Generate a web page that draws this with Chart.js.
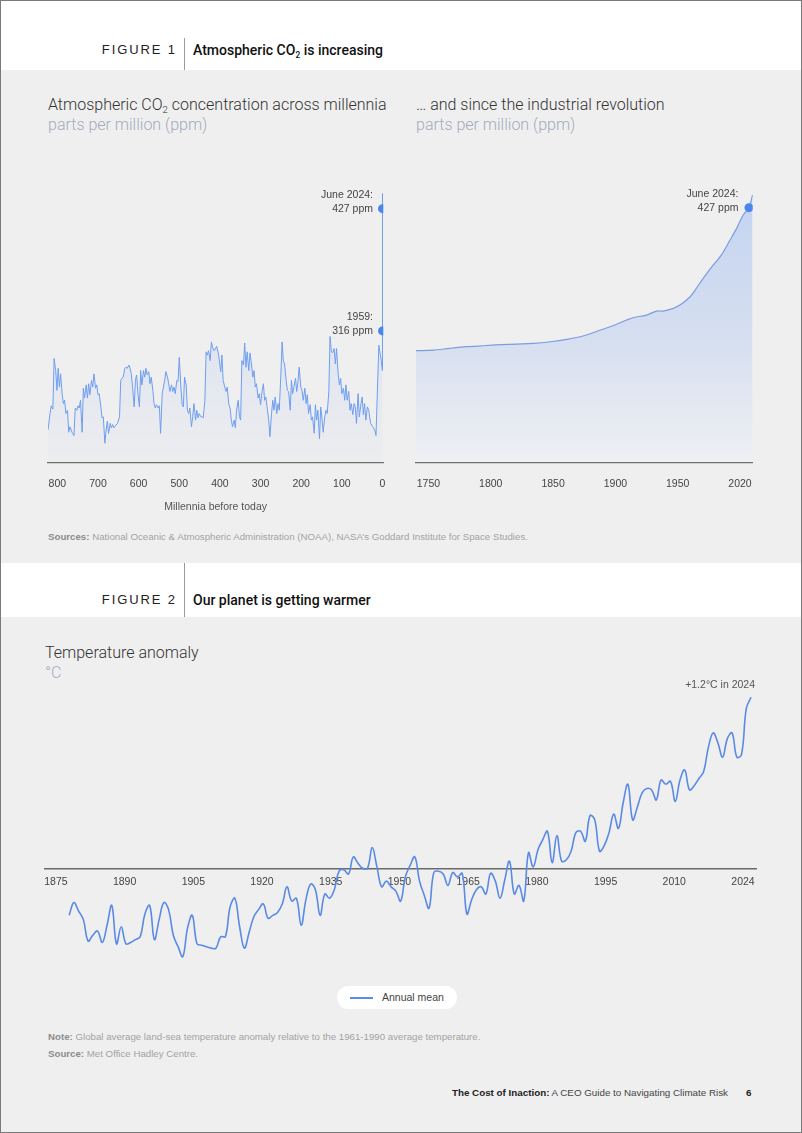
<!DOCTYPE html>
<html><head><meta charset="utf-8">
<script src="https://cdn.jsdelivr.net/npm/chart.js@4.4.1/dist/chart.umd.min.js"></script>
<style>
html,body{margin:0;padding:0;}
body{width:802px;height:1133px;position:relative;background:#efefef;font-family:"Liberation Sans",Arial,sans-serif;overflow:hidden;}
.abs{position:absolute;white-space:nowrap;}
.band{position:absolute;left:0;width:802px;background:#fff;}
.frame{position:absolute;left:0;top:0;width:802px;height:1133px;box-sizing:border-box;border:1px solid #7a7a7a;pointer-events:none;}
.figlabel{font-size:13px;line-height:16px;letter-spacing:1.9px;color:#222;text-align:right;width:120px;}
.figtitle{font-family:Roboto,"Liberation Sans",sans-serif;font-weight:500;font-size:14px;line-height:17px;color:#111;}
.vline{position:absolute;width:1px;background:#9a9a9a;}
.ctitle{font-family:Roboto,"Liberation Sans",sans-serif;font-weight:300;font-size:16px;line-height:20px;color:#333;}
.csub{font-family:Roboto,"Liberation Sans",sans-serif;font-weight:300;font-size:16px;line-height:20px;color:#a3abbd;}
sub{font-size:0.6em;vertical-align:-0.3em;line-height:0;}
.small{font-size:9.7px;line-height:12px;color:#a3a3a3;}
.small b{color:#8c8c8c;}
.foot{font-size:9.8px;line-height:13px;color:#444;}
.foot b{color:#222;}
canvas{position:absolute;}
.pill{position:absolute;left:337px;top:986px;width:120px;height:23px;border-radius:12px;background:#fff;}
.pill .sw{position:absolute;left:13px;top:11px;width:23px;height:1.5px;background:#5a8ae6;}
.pill .tx{position:absolute;left:45px;top:5px;font-size:10.5px;line-height:13px;color:#444;}
</style>
</head>
<body>
<div class="band" style="top:0;height:70px;"></div>
<div class="band" style="top:563px;height:54px;"></div>

<div class="abs figlabel" style="left:57px;top:42px;">FIGURE 1</div>
<div class="vline" style="left:184px;top:38px;height:32px;"></div>
<div class="abs figtitle" style="left:193px;top:41.5px;">Atmospheric CO<sub>2</sub> is increasing</div>

<div class="abs ctitle" style="left:48px;top:95px;">Atmospheric CO<sub>2</sub> concentration across millennia</div>
<div class="abs csub" style="left:48px;top:115px;">parts per million (ppm)</div>
<div class="abs ctitle" style="left:416px;top:95px;">… and since the industrial revolution</div>
<div class="abs csub" style="left:416px;top:115px;">parts per million (ppm)</div>

<canvas id="c1" width="360" height="347" style="left:40px;top:170px;"></canvas>
<canvas id="c2" width="360" height="347" style="left:405px;top:170px;"></canvas>

<div class="abs small" style="left:48px;top:531px;"><b>Sources:</b> National Oceanic &amp; Atmospheric Administration (NOAA), NASA’s Goddard Institute for Space Studies.</div>

<div class="abs figlabel" style="left:57px;top:592px;">FIGURE 2</div>
<div class="vline" style="left:184px;top:563px;height:54px;"></div>
<div class="abs figtitle" style="left:193px;top:591.5px;">Our planet is getting warmer</div>

<div class="abs ctitle" style="left:45px;top:643px;">Temperature anomaly</div>
<div class="abs csub" style="left:45px;top:663px;">°C</div>

<canvas id="c3" width="725" height="310" style="left:40px;top:675px;"></canvas>

<div class="pill"><div class="sw"></div><div class="tx">Annual mean</div></div>

<div class="abs small" style="left:48px;top:1031px;"><b>Note:</b> Global average land-sea temperature anomaly relative to the 1961-1990 average temperature.</div>
<div class="abs small" style="left:48px;top:1048px;"><b>Source:</b> Met Office Hadley Centre.</div>

<div class="abs foot" style="right:74px;top:1085.5px;"><b>The Cost of Inaction:</b> A CEO Guide to Navigating Climate Risk</div>
<div class="abs foot" style="left:746px;top:1085.5px;"><b>6</b></div>

<div class="frame"></div>

<script>
// ---------- Figure 1, left: CO2 across millennia (thousand years before today, ppm) ----------
const co2AncientKa = [823,818,815,811,808,804,801,798,795,792,788,785,782,779,775,772,769,764,759,756,752,749,746,743,739,736,733,729,726,723,720,716,713,710,706,703,700,697,693,690,687,683,680,677,674,670,667,664,661,657,652,647,644,641,638,634,631,628,624,621,618,615,611,608,605,601,598,595,592,588,585,582,579,575,572,569,565,562,559,556,552,549,546,542,539,536,533,529,526,523,519,516,513,510,506,503,500,496,493,490,487,483,480,477,474,470,467,464,460,457,454,451,447,444,441,437,434,431,428,424,421,418,414,408,403,398,395,392,388,385,382,378,375,372,369,365,362,359,355,352,349,346,342,339,336,333,329,326,323,319,316,313,310,306,303,300,296,293,290,287,283,280,277,273,270,267,264,260,257,254,250,247,244,241,237,234,231,227,224,221,218,214,211,208,205,201,198,195,191,188,185,182,178,175,172,168,165,162,159,155,152,149,146,142,139,136,132,129,126,123,119,116,113,109,106,103,100,96,93,90,87,83,80,77,73,70,67,64,60,57,54,50,47,44,41,37,34,29,24,19,16,13,9,6,3,0.3,0];
const co2AncientPpm = [226,241,248,245,291,280,262,282,265,277,258,250,253,241,244,224,229,224,221,246,244,248,246,253,224,264,255,267,255,268,258,271,265,277,264,267,258,259,247,237,238,214,226,234,223,232,228,231,228,230,232,238,271,273,274,282,283,282,285,282,277,265,247,271,276,256,247,280,267,280,274,282,276,279,268,274,262,250,246,249,246,248,223,259,265,271,279,274,268,261,267,261,265,259,271,270,292,265,249,247,274,267,244,241,246,229,238,250,235,244,237,241,238,238,237,253,297,294,298,289,306,301,298,302,294,279,294,271,265,261,265,249,246,235,229,235,228,244,253,238,235,289,285,305,283,297,280,296,288,274,280,265,268,255,259,249,262,268,253,256,244,235,220,241,253,244,256,241,250,244,277,306,289,286,271,262,261,244,271,259,265,273,261,270,283,265,262,253,264,250,258,241,249,235,238,223,249,235,244,218,247,237,224,238,244,241,261,311,298,296,300,286,300,277,267,273,259,264,253,267,253,261,244,250,240,250,247,232,259,238,247,256,240,250,235,247,244,232,229,226,221,256,303,296,289,280,441];
const co2AncientMarkKa = [0, 0];
const co2AncientMarkPpm = [427, 316];
const co2AncientMarkLabels = [['June 2024:', '427 ppm'], ['1959:', '316 ppm']];
const co2AncientTicks = [800, 700, 600, 500, 400, 300, 200, 100, 0];

// ---------- Figure 1, right: CO2 since the industrial revolution ----------
// x values are positions on the picture's year axis (its last tick is labelled 2020)
const co2RecentYear = [1740,1754,1767,1781,1794,1808,1821,1834,1848,1861,1874,1888,1898,1909,1914,1925,1933,1938.5,1946.5,1953,1960,1964,1970.5,1978.6,1985,1992,1997.3,2002.6,2007.2,2010.1];
const co2RecentPpm = [277.0,277.7,279.5,281.2,282.2,283.3,284.0,284.7,286.4,288.9,292.4,298.7,303.2,309.2,311.6,314.4,318.6,318.6,321.4,325.9,333.6,340.6,352.9,366.9,377.3,393.1,405.3,419.3,427.0,440.3];
const co2RecentMarkYear = [2007.2];
const co2RecentMarkPpm = [427];
const co2RecentMarkLabels = [['June 2024:', '427 ppm']];
const co2RecentTickValues = [1750, 1800, 1850, 1900, 1950, 2000];
const co2RecentTickLabels = ['1750', '1800', '1850', '1900', '1950', '2020'];

// ---------- Figure 2: temperature anomaly (°C vs 1961-1990) ----------
const tempYears = [1880,1881,1882,1883,1884,1885,1886,1887,1888,1889,1890,1891,1892,1893,1894,1895,1896,1897,1898,1899,1900,1901,1902,1903,1904,1905,1906,1907,1908,1909,1910,1911,1912,1913,1914,1915,1916,1917,1918,1919,1920,1921,1922,1923,1924,1925,1926,1927,1928,1929,1930,1931,1932,1933,1934,1935,1936,1937,1938,1939,1940,1941,1942,1943,1944,1945,1946,1947,1948,1949,1950,1951,1952,1953,1954,1955,1956,1957,1958,1959,1960,1961,1962,1963,1964,1965,1966,1967,1968,1969,1970,1971,1972,1973,1974,1975,1976,1977,1978,1979,1980,1981,1982,1983,1984,1985,1986,1987,1988,1989,1990,1991,1992,1993,1994,1995,1996,1997,1998,1999,2000,2001,2002,2003,2004,2005,2006,2007,2008,2009,2010,2011,2012,2013,2014,2015,2016,2017,2018,2019,2020,2021,2022,2023,2024];
const tempAnomaly = [-0.33,-0.24,-0.30,-0.36,-0.51,-0.47,-0.44,-0.52,-0.40,-0.26,-0.53,-0.41,-0.53,-0.52,-0.50,-0.48,-0.32,-0.26,-0.50,-0.36,-0.24,-0.29,-0.47,-0.55,-0.62,-0.42,-0.33,-0.53,-0.54,-0.55,-0.56,-0.56,-0.48,-0.48,-0.27,-0.21,-0.41,-0.56,-0.45,-0.34,-0.29,-0.25,-0.35,-0.33,-0.31,-0.25,-0.13,-0.23,-0.21,-0.40,-0.22,-0.11,-0.15,-0.33,-0.18,-0.21,-0.15,-0.02,-0.01,-0.04,0.08,0.035,0.0,0.0,0.145,0.01,-0.13,-0.09,-0.13,-0.16,-0.23,-0.06,0.02,0.08,-0.09,-0.19,-0.28,-0.03,-0.02,-0.04,-0.12,-0.03,-0.06,-0.035,-0.32,-0.22,-0.15,-0.13,-0.18,-0.035,-0.09,-0.21,-0.08,0.05,-0.18,-0.12,-0.23,0.11,0.01,0.13,0.20,0.26,0.04,0.23,0.05,0.06,0.12,0.25,0.26,0.19,0.37,0.34,0.12,0.16,0.25,0.38,0.28,0.46,0.59,0.34,0.43,0.53,0.56,0.55,0.48,0.62,0.59,0.61,0.47,0.62,0.69,0.55,0.58,0.63,0.68,0.85,0.95,0.88,0.78,0.91,0.95,0.78,0.80,1.12,1.20];
const tempTickLabels = ['1875','1890','1905','1920','1935','1950','1965','1980','1995','2010','2024'];
const tempEndLabel = '+1.2°C in 2024';
const legendLabel = 'Annual mean';

// ---------- helpers ----------
Chart.defaults.font.family = '"Liberation Sans", Arial, sans-serif';
Chart.defaults.color = '#444';

const pairs = (xs, ys) => xs.map((x, i) => ({x: x, y: ys[i]}));

const markLabelPlugin = {
  id: 'markLabels',
  afterDatasetsDraw(chart, args, opts) {
    if (!opts || !opts.labels) return;
    const meta = chart.getDatasetMeta(opts.datasetIndex);
    const ctx = chart.ctx;
    ctx.save();
    ctx.font = '10.5px "Liberation Sans", Arial, sans-serif';
    ctx.fillStyle = '#444';
    ctx.textAlign = 'right';
    ctx.textBaseline = 'middle';
    meta.data.forEach((pt, i) => {
      const lines = opts.labels[i];
      ctx.fillText(lines[1], pt.x + opts.dx, pt.y);
      ctx.fillText(lines[0], pt.x + opts.dx, pt.y - 14);
    });
    ctx.restore();
  }
};

const endLabelPlugin = {
  id: 'endLabel',
  afterDatasetsDraw(chart, args, opts) {
    if (!opts || !opts.text) return;
    const meta = chart.getDatasetMeta(0);
    const pt = meta.data[meta.data.length - 1];
    const ctx = chart.ctx;
    ctx.save();
    ctx.font = '10.5px "Liberation Sans", Arial, sans-serif';
    ctx.fillStyle = '#555';
    ctx.textAlign = 'right';
    ctx.textBaseline = 'middle';
    ctx.fillText(opts.text, pt.x + 4, pt.y - 12.5);
    ctx.restore();
  }
};

const tickFont = {size: 10.5, family: '"Liberation Sans", Arial, sans-serif'};
// invisible tick marks provide the gap between axis line and labels
const hiddenGrid = (len) => ({display: true, drawOnChartArea: false, drawTicks: true, tickLength: len, color: 'rgba(0,0,0,0)'});

// ---------- left chart ----------
new Chart(document.getElementById('c1'), {
  type: 'line',
  data: {
    datasets: [
      {
        data: pairs(co2AncientKa, co2AncientPpm),
        borderColor: '#6f9ef0', borderWidth: 1, pointRadius: 0, tension: 0,
        fill: 'start', order: 2,
        backgroundColor: (c) => {
          const ch = c.chart, ca = ch.chartArea;
          if (!ca) return 'transparent';
          const g = ch.ctx.createLinearGradient(0, ca.top, 0, ca.bottom);
          g.addColorStop(0, 'rgba(170,195,242,0.65)');
          g.addColorStop(0.55, 'rgba(190,207,242,0.35)');
          g.addColorStop(1, 'rgba(215,222,240,0.12)');
          return g;
        }
      },
      {
        type: 'scatter', data: pairs(co2AncientMarkKa, co2AncientMarkPpm),
        pointRadius: 4.5, pointBackgroundColor: '#4a86ee', pointBorderWidth: 0, order: 1
      }
    ]
  },
  options: {
    responsive: false, animation: false, events: [],
    layout: {padding: {left: 8, right: 16.7, top: 18.8, bottom: 0}},
    plugins: {
      legend: {display: false}, tooltip: {enabled: false},
      markLabels: {datasetIndex: 1, labels: co2AncientMarkLabels, dx: -9.5}
    },
    scales: {
      x: {
        type: 'linear', reverse: true, min: -2, max: 823,
        afterBuildTicks: (s) => { s.ticks = co2AncientTicks.map(v => ({value: v})); },
        afterFit: (s) => { s.height = 54.7; },
        grid: hiddenGrid(15),
        border: {display: true, color: '#707070', width: 1.2},
        ticks: {padding: 0.4, color: '#444', font: tickFont, maxRotation: 0, autoSkip: false},
        title: {display: true, text: 'Millennia before today', color: '#555', font: tickFont, padding: {top: 4, bottom: 4}}
      },
      y: {type: 'linear', display: false, min: 196.7, max: 445}
    }
  },
  plugins: [markLabelPlugin]
});

// ---------- right chart ----------
new Chart(document.getElementById('c2'), {
  type: 'line',
  data: {
    datasets: [
      {
        data: pairs(co2RecentYear, co2RecentPpm),
        borderColor: '#7a9de0', borderWidth: 1.2, pointRadius: 0, tension: 0.3,
        fill: 'start', order: 2,
        backgroundColor: (c) => {
          const ch = c.chart, ca = ch.chartArea;
          if (!ca) return 'transparent';
          const g = ch.ctx.createLinearGradient(0, ca.top, 0, ca.bottom);
          g.addColorStop(0, '#c3d3f1');
          g.addColorStop(0.55, '#d6dff0');
          g.addColorStop(1, '#eef0f3');
          return g;
        }
      },
      {
        type: 'scatter', data: pairs(co2RecentMarkYear, co2RecentMarkPpm),
        pointRadius: 4.5, pointBackgroundColor: '#4a86ee', pointBorderWidth: 0, order: 1
      }
    ]
  },
  options: {
    responsive: false, animation: false, events: [],
    layout: {padding: {left: 11, right: 12.3, top: 20.5, bottom: 0}},
    plugins: {
      legend: {display: false}, tooltip: {enabled: false},
      markLabels: {datasetIndex: 1, labels: co2RecentMarkLabels, dx: -10.5}
    },
    scales: {
      x: {
        type: 'linear', min: 1740, max: 2010.2,
        afterBuildTicks: (s) => { s.ticks = co2RecentTickValues.map(v => ({value: v})); },
        afterFit: (s) => { s.height = 54.7; },
        grid: hiddenGrid(15),
        border: {display: true, color: '#707070', width: 1.2},
        ticks: {padding: 0.4, color: '#444', font: tickFont, maxRotation: 0, autoSkip: false,
                callback: (v, i) => co2RecentTickLabels[i]}
      },
      y: {type: 'linear', display: false, min: 160, max: 445}
    }
  },
  plugins: [markLabelPlugin]
});

// ---------- temperature chart ----------
const tempTickFirst = 1877.2, tempTickLast = 2022.3;
new Chart(document.getElementById('c3'), {
  type: 'line',
  data: {
    datasets: [{
      label: legendLabel,
      data: pairs(tempYears, tempAnomaly),
      borderColor: '#5a8ae6', borderWidth: 1.6, pointRadius: 0, tension: 0.4, fill: false
    }]
  },
  options: {
    responsive: false, animation: false, events: [],
    layout: {padding: {left: 5, right: 9, top: 8.05, bottom: 9.8}},
    plugins: {
      legend: {display: false}, tooltip: {enabled: false},
      endLabel: {text: tempEndLabel}
    },
    scales: {
      x: {
        type: 'linear', min: 1874.9, max: 2025.05, position: {y: 0},
        afterBuildTicks: (s) => {
          const n = tempTickLabels.length;
          s.ticks = tempTickLabels.map((l, i) => ({value: tempTickFirst + i * (tempTickLast - tempTickFirst) / (n - 1)}));
        },
        grid: hiddenGrid(7),
        border: {display: true, color: '#6a6a6a', width: 1.5},
        ticks: {padding: 0.1, color: '#444', font: tickFont, maxRotation: 0, autoSkip: false,
                callback: (v, i) => tempTickLabels[i]}
      },
      y: {type: 'linear', display: false, min: -0.75, max: 1.3}
    }
  },
  plugins: [endLabelPlugin]
});
</script>
</body></html>
